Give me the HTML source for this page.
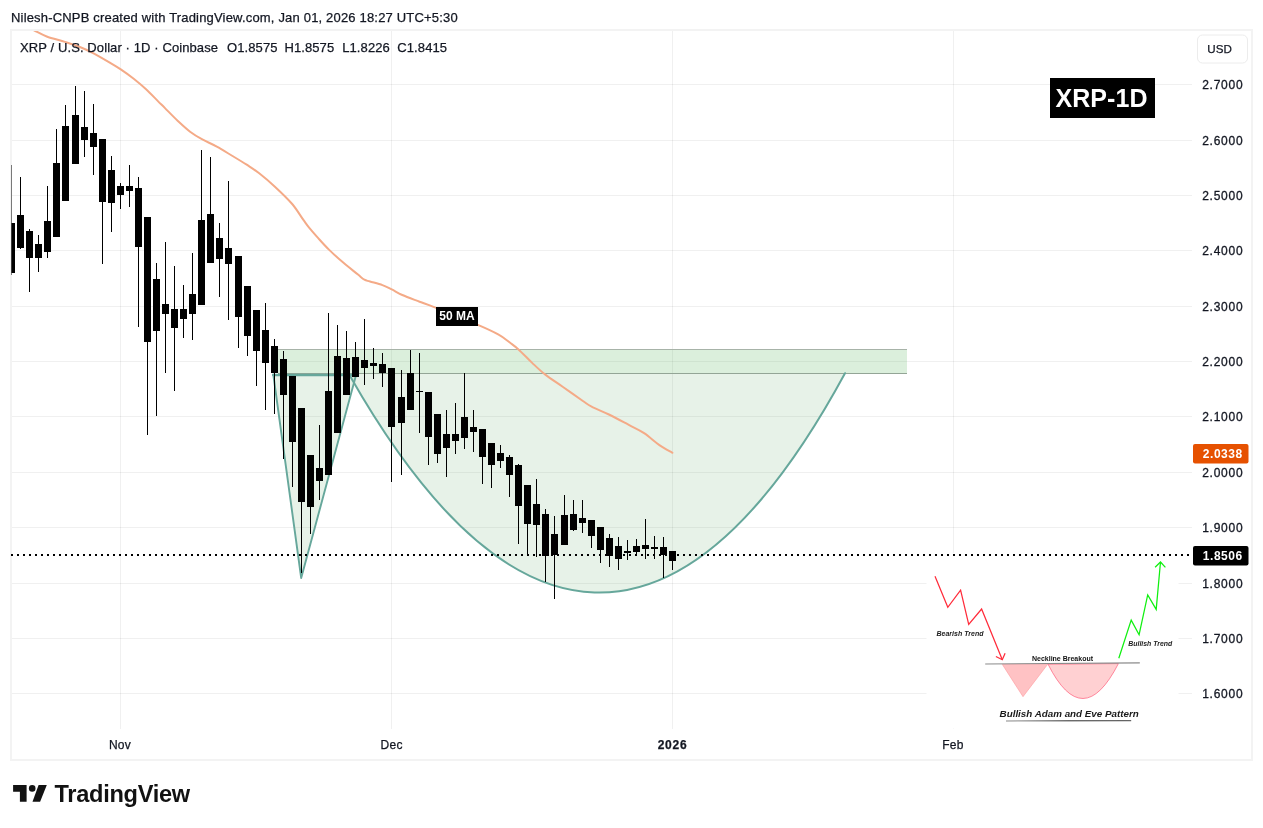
<!DOCTYPE html>
<html lang="en"><head><meta charset="utf-8"><title>XRP / U.S. Dollar - TradingView</title>
<style>
html,body{margin:0;padding:0;background:#fff;}
body{width:1263px;height:828px;overflow:hidden;position:relative;font-family:"Liberation Sans",sans-serif;}
svg{position:absolute;left:0;top:0;display:block;}
text{font-family:"Liberation Sans",sans-serif;}
.t{position:absolute;white-space:nowrap;color:#131722;line-height:1;-webkit-text-stroke:0.25px #131722;}
</style></head><body>
<svg width="1263" height="828" viewBox="0 0 1263 828">
<defs><clipPath id="pane"><rect x="11.5" y="31" width="1180.5" height="698"/></clipPath>
<linearGradient id="ug" x1="0" x2="1" y1="0" y2="0"><stop offset="0" stop-color="#b0b0b0"/><stop offset="0.5" stop-color="#555"/><stop offset="1" stop-color="#666"/></linearGradient></defs>
<rect x="11" y="30" width="1241" height="730" fill="#fff" stroke="#f3f3f3" stroke-width="2"/>
<g shape-rendering="crispEdges" stroke="#000" stroke-opacity="0.06" stroke-width="1">
<line x1="12" y1="84.5" x2="1192" y2="84.5"/>
<line x1="12" y1="140.5" x2="1192" y2="140.5"/>
<line x1="12" y1="195.5" x2="1192" y2="195.5"/>
<line x1="12" y1="250.5" x2="1192" y2="250.5"/>
<line x1="12" y1="306.5" x2="1192" y2="306.5"/>
<line x1="12" y1="361.5" x2="1192" y2="361.5"/>
<line x1="12" y1="416.5" x2="1192" y2="416.5"/>
<line x1="12" y1="472.5" x2="1192" y2="472.5"/>
<line x1="12" y1="527.5" x2="1192" y2="527.5"/>
<line x1="12" y1="583.5" x2="1192" y2="583.5"/>
<line x1="12" y1="638.5" x2="1192" y2="638.5"/>
<line x1="12" y1="693.5" x2="1192" y2="693.5"/>
<line x1="120.5" y1="31" x2="120.5" y2="729"/>
<line x1="391.5" y1="31" x2="391.5" y2="729"/>
<line x1="672.5" y1="31" x2="672.5" y2="729"/>
<line x1="953.5" y1="31" x2="953.5" y2="729"/>
</g>
<g clip-path="url(#pane)">
<rect x="278" y="349.5" width="629" height="24" fill="#4caf50" fill-opacity="0.2" stroke="none"/>
<path d="M273.3,374.5 L301.2,578 L355.8,376 Z" fill="#3d9a48" fill-opacity="0.125"/>
<path d="M350.3,376.6 C507.2,651.7 679.7,678.2 845,373.2 L845,374 L350.3,374 Z" fill="#3d9a48" fill-opacity="0.125"/>
<g shape-rendering="crispEdges"><rect x="278" y="349" width="629" height="1" fill="#a7b3a8"/><rect x="278" y="373" width="629" height="1" fill="#93a596"/></g>
<g fill="none" stroke="#66a79b" stroke-linejoin="round" stroke-linecap="round">
<path d="M273.3,375 L354,375" stroke-width="2.6"/>
<path d="M273.3,374.5 L301.2,578 L355.8,376" stroke-width="1.9"/>
<path d="M350.3,376.6 C507.2,651.7 679.7,678.2 845,373.2" stroke-width="2"/>
</g>
<path d="M22.0,24.0 C24.0,25.1 30.0,28.3 34.1,30.4 C38.2,32.5 41.6,34.6 46.7,36.5 C51.8,38.4 59.5,40.2 64.9,41.9 C70.3,43.6 74.7,44.9 79.3,46.7 C83.9,48.5 87.6,50.2 92.6,52.8 C97.6,55.4 104.9,59.7 109.5,62.4 C114.1,65.1 116.4,66.4 120.4,69.1 C124.4,71.8 129.5,75.4 133.7,78.7 C137.9,82.0 141.8,85.3 145.8,89.0 C149.8,92.7 154.7,97.9 157.9,101.1 C161.1,104.3 161.7,104.8 165.0,108.1 C168.3,111.4 173.4,116.8 177.6,120.7 C181.8,124.6 186.0,128.6 190.1,131.7 C194.2,134.8 197.4,136.7 201.9,139.2 C206.4,141.7 211.7,143.8 216.8,146.6 C221.9,149.4 227.5,153.0 232.5,156.0 C237.5,159.0 242.2,161.8 246.7,164.7 C251.1,167.6 254.5,169.6 259.2,173.3 C263.9,177.0 269.4,181.6 274.9,186.7 C280.4,191.8 287.5,198.5 292.2,204.0 C296.9,209.5 300.3,215.7 303.2,219.7 C306.1,223.7 306.7,224.8 309.3,227.9 C311.9,231.1 315.3,234.9 318.6,238.6 C321.9,242.3 325.0,245.8 329.2,249.9 C333.4,254.0 339.0,259.0 343.8,263.1 C348.6,267.2 354.6,271.8 358.0,274.6 C361.4,277.4 362.4,278.6 364.4,279.7 C366.4,280.8 367.0,280.6 370.0,281.5 C373.0,282.4 378.8,283.8 382.4,285.1 C386.0,286.4 388.4,287.8 391.7,289.4 C395.0,291.0 397.6,292.9 402.3,295.0 C407.0,297.1 414.1,299.6 419.6,301.7 C425.1,303.8 425.8,303.7 435.5,307.6 C445.2,311.5 467.4,320.4 477.9,324.9 C488.4,329.4 493.3,331.7 498.6,334.6 C503.9,337.5 506.5,340.0 509.8,342.5 C513.1,345.0 514.7,346.0 518.5,349.4 C522.3,352.8 528.0,358.9 532.4,363.1 C536.8,367.3 539.9,370.4 545.0,374.4 C550.1,378.4 556.7,382.6 563.0,387.0 C569.3,391.4 578.1,397.7 582.9,401.0 C587.7,404.3 587.3,404.4 591.6,406.6 C595.9,408.9 602.7,411.4 608.9,414.5 C615.1,417.6 622.9,421.8 628.8,424.9 C634.7,428.0 639.0,429.7 644.1,433.1 C649.2,436.5 654.7,441.8 659.4,445.1 C664.1,448.4 670.2,451.5 672.4,452.8" fill="none" stroke="#f4aa87" stroke-width="2" stroke-linejoin="round" stroke-linecap="round"/>
<g shape-rendering="crispEdges" fill="#000">
<rect x="11" y="165" width="1" height="110"/>
<rect x="8" y="223" width="7" height="50"/>
<rect x="20" y="177" width="1" height="72"/>
<rect x="17" y="215" width="7" height="33"/>
<rect x="29" y="229" width="1" height="63"/>
<rect x="26" y="231" width="7" height="27"/>
<rect x="38" y="235" width="1" height="37"/>
<rect x="35" y="244" width="7" height="14"/>
<rect x="47" y="186" width="1" height="72"/>
<rect x="44" y="221" width="7" height="31"/>
<rect x="56" y="129" width="1" height="108"/>
<rect x="53" y="163" width="7" height="74"/>
<rect x="65" y="105" width="1" height="96"/>
<rect x="62" y="126" width="7" height="75"/>
<rect x="75" y="86" width="1" height="78"/>
<rect x="72" y="115" width="7" height="49"/>
<rect x="84" y="91" width="1" height="66"/>
<rect x="81" y="127" width="7" height="13"/>
<rect x="93" y="104" width="1" height="71"/>
<rect x="90" y="133" width="7" height="14"/>
<rect x="102" y="139" width="1" height="125"/>
<rect x="99" y="139" width="7" height="63"/>
<rect x="111" y="156" width="1" height="76"/>
<rect x="108" y="170" width="7" height="33"/>
<rect x="120" y="183" width="1" height="26"/>
<rect x="117" y="186" width="7" height="9"/>
<rect x="129" y="165" width="1" height="42"/>
<rect x="126" y="186" width="7" height="5"/>
<rect x="138" y="177" width="1" height="150"/>
<rect x="135" y="188" width="7" height="59"/>
<rect x="147" y="217" width="1" height="218"/>
<rect x="144" y="217" width="7" height="125"/>
<rect x="156" y="263" width="1" height="153"/>
<rect x="153" y="279" width="7" height="52"/>
<rect x="165" y="242" width="1" height="131"/>
<rect x="162" y="304" width="7" height="10"/>
<rect x="174" y="266" width="1" height="125"/>
<rect x="171" y="309" width="7" height="19"/>
<rect x="183" y="285" width="1" height="53"/>
<rect x="180" y="309" width="7" height="10"/>
<rect x="192" y="253" width="1" height="87"/>
<rect x="189" y="294" width="7" height="20"/>
<rect x="201" y="150" width="1" height="155"/>
<rect x="198" y="220" width="7" height="85"/>
<rect x="210" y="157" width="1" height="106"/>
<rect x="207" y="214" width="7" height="49"/>
<rect x="219" y="223" width="1" height="74"/>
<rect x="216" y="238" width="7" height="21"/>
<rect x="228" y="181" width="1" height="139"/>
<rect x="225" y="248" width="7" height="16"/>
<rect x="238" y="256" width="1" height="92"/>
<rect x="235" y="256" width="7" height="61"/>
<rect x="247" y="286" width="1" height="70"/>
<rect x="244" y="286" width="7" height="50"/>
<rect x="256" y="310" width="1" height="76"/>
<rect x="253" y="310" width="7" height="41"/>
<rect x="265" y="303" width="1" height="107"/>
<rect x="262" y="330" width="7" height="33"/>
<rect x="274" y="339" width="1" height="75"/>
<rect x="271" y="346" width="7" height="27"/>
<rect x="283" y="351" width="1" height="108"/>
<rect x="280" y="359" width="7" height="36"/>
<rect x="292" y="376" width="1" height="111"/>
<rect x="289" y="376" width="7" height="66"/>
<rect x="301" y="408" width="1" height="165"/>
<rect x="298" y="408" width="7" height="94"/>
<rect x="310" y="455" width="1" height="79"/>
<rect x="307" y="455" width="7" height="52"/>
<rect x="319" y="425" width="1" height="75"/>
<rect x="316" y="468" width="7" height="13"/>
<rect x="328" y="313" width="1" height="162"/>
<rect x="325" y="391" width="7" height="84"/>
<rect x="337" y="325" width="1" height="108"/>
<rect x="334" y="356" width="7" height="77"/>
<rect x="346" y="331" width="1" height="64"/>
<rect x="343" y="358" width="7" height="37"/>
<rect x="355" y="342" width="1" height="35"/>
<rect x="352" y="357" width="7" height="20"/>
<rect x="364" y="319" width="1" height="66"/>
<rect x="361" y="360" width="7" height="8"/>
<rect x="373" y="348" width="1" height="31"/>
<rect x="370" y="363" width="7" height="3"/>
<rect x="382" y="353" width="1" height="34"/>
<rect x="379" y="364" width="7" height="9"/>
<rect x="391" y="368" width="1" height="114"/>
<rect x="388" y="368" width="7" height="59"/>
<rect x="401" y="370" width="1" height="105"/>
<rect x="398" y="397" width="7" height="26"/>
<rect x="410" y="350" width="1" height="60"/>
<rect x="407" y="373" width="7" height="37"/>
<rect x="419" y="353" width="1" height="80"/>
<rect x="416" y="391" width="7" height="1"/>
<rect x="428" y="392" width="1" height="73"/>
<rect x="425" y="392" width="7" height="45"/>
<rect x="437" y="414" width="1" height="49"/>
<rect x="434" y="414" width="7" height="40"/>
<rect x="446" y="410" width="1" height="67"/>
<rect x="443" y="434" width="7" height="14"/>
<rect x="455" y="403" width="1" height="51"/>
<rect x="452" y="434" width="7" height="7"/>
<rect x="464" y="373" width="1" height="76"/>
<rect x="461" y="417" width="7" height="21"/>
<rect x="473" y="410" width="1" height="42"/>
<rect x="470" y="427" width="7" height="5"/>
<rect x="482" y="429" width="1" height="55"/>
<rect x="479" y="429" width="7" height="28"/>
<rect x="491" y="443" width="1" height="45"/>
<rect x="488" y="443" width="7" height="22"/>
<rect x="500" y="445" width="1" height="23"/>
<rect x="497" y="453" width="7" height="8"/>
<rect x="509" y="455" width="1" height="42"/>
<rect x="506" y="457" width="7" height="18"/>
<rect x="518" y="464" width="1" height="80"/>
<rect x="515" y="465" width="7" height="41"/>
<rect x="527" y="485" width="1" height="70"/>
<rect x="524" y="485" width="7" height="39"/>
<rect x="536" y="479" width="1" height="78"/>
<rect x="533" y="504" width="7" height="21"/>
<rect x="545" y="509" width="1" height="73"/>
<rect x="542" y="514" width="7" height="42"/>
<rect x="554" y="516" width="1" height="83"/>
<rect x="551" y="534" width="7" height="21"/>
<rect x="564" y="495" width="1" height="50"/>
<rect x="561" y="515" width="7" height="30"/>
<rect x="573" y="500" width="1" height="31"/>
<rect x="570" y="514" width="7" height="16"/>
<rect x="582" y="500" width="1" height="33"/>
<rect x="579" y="518" width="7" height="5"/>
<rect x="591" y="520" width="1" height="28"/>
<rect x="588" y="520" width="7" height="16"/>
<rect x="600" y="527" width="1" height="36"/>
<rect x="597" y="527" width="7" height="23"/>
<rect x="609" y="534" width="1" height="33"/>
<rect x="606" y="538" width="7" height="18"/>
<rect x="618" y="537" width="1" height="33"/>
<rect x="615" y="546" width="7" height="13"/>
<rect x="627" y="540" width="1" height="20"/>
<rect x="624" y="551" width="7" height="2"/>
<rect x="636" y="539" width="1" height="16"/>
<rect x="633" y="546" width="7" height="6"/>
<rect x="645" y="519" width="1" height="40"/>
<rect x="642" y="545" width="7" height="4"/>
<rect x="654" y="536" width="1" height="23"/>
<rect x="651" y="547" width="7" height="2"/>
<rect x="663" y="537" width="1" height="41"/>
<rect x="660" y="547" width="7" height="8"/>
<rect x="672" y="551" width="1" height="19"/>
<rect x="669" y="551" width="7" height="10"/>
</g>
</g>
<rect x="436" y="307" width="42" height="19" fill="#000"/>
<text x="457" y="320.2" font-size="12" font-weight="bold" fill="#fff" text-anchor="middle">50 MA</text>
<rect x="1050" y="78" width="105" height="40" fill="#000"/>
<text x="1101.5" y="107" font-size="25" font-weight="bold" fill="#fff" text-anchor="middle" letter-spacing="0.05">XRP-1D</text>
<rect x="926.5" y="553" width="252" height="175.5" fill="#fff"/>
<g fill="none" stroke-linejoin="miter" stroke-linecap="butt">
<path d="M935,576.3 L947.8,607.3 L960.6,590.2 L968.7,624.4 L981.6,609 L1002.3,659.7" stroke="#ff2b3a" stroke-width="1.25"/>
<path d="M995.9,656.5 L1002.3,659.7 L1005.1,653.3" stroke="#ff2b3a" stroke-width="1.25"/>
<path d="M1118.8,658.2 L1131.2,620.1 L1139.1,634.7 L1147.7,594.9 L1156.2,609.4 L1160.5,562" stroke="#10f010" stroke-width="1.25"/>
<path d="M1155.1,567.3 L1160.5,562 L1165.4,567.3" stroke="#10f010" stroke-width="1.25"/>
</g>
<path d="M1002.3,664.4 L1047.6,664.4 L1023,696.7 Z" fill="#ffc2c4" stroke="#ff9aa0" stroke-width="0.6"/>
<path d="M1048,664.2 Q1082.8,733.1 1118.4,663.6 Z" fill="#ffd0d2" stroke="#ff5a78" stroke-width="0.7"/>
<line x1="985.2" y1="664" x2="1139.8" y2="662.9" stroke="#8a8a8a" stroke-width="1.1"/>
<text x="960" y="636" font-size="7" font-weight="bold" font-style="italic" fill="#222" text-anchor="middle">Bearish Trend</text>
<text x="1062.5" y="660.6" font-size="7" font-weight="bold" fill="#111" text-anchor="middle">Neckline Breakout</text>
<text x="1150.3" y="646.2" font-size="6.9" font-weight="bold" font-style="italic" fill="#222" text-anchor="middle">Bullish Trend</text>
<text x="999.6" y="716.8" font-size="9" font-weight="bold" font-style="italic" fill="#1a1a1a" textLength="139.2" lengthAdjust="spacingAndGlyphs">Bullish Adam and Eve Pattern</text>
<line x1="1006" y1="721" x2="1131.2" y2="720.6" stroke="url(#ug)" stroke-width="1.3"/>
<line x1="11" y1="555" x2="1192" y2="555" stroke="#000" stroke-width="2" stroke-dasharray="2 4" shape-rendering="crispEdges"/>
<text x="1222.8" y="88.9" font-size="12" fill="#131722" stroke="#131722" stroke-width="0.3" text-anchor="middle" letter-spacing="0.75">2.7000</text>
<text x="1222.8" y="144.9" font-size="12" fill="#131722" stroke="#131722" stroke-width="0.3" text-anchor="middle" letter-spacing="0.75">2.6000</text>
<text x="1222.8" y="199.9" font-size="12" fill="#131722" stroke="#131722" stroke-width="0.3" text-anchor="middle" letter-spacing="0.75">2.5000</text>
<text x="1222.8" y="254.9" font-size="12" fill="#131722" stroke="#131722" stroke-width="0.3" text-anchor="middle" letter-spacing="0.75">2.4000</text>
<text x="1222.8" y="310.9" font-size="12" fill="#131722" stroke="#131722" stroke-width="0.3" text-anchor="middle" letter-spacing="0.75">2.3000</text>
<text x="1222.8" y="365.9" font-size="12" fill="#131722" stroke="#131722" stroke-width="0.3" text-anchor="middle" letter-spacing="0.75">2.2000</text>
<text x="1222.8" y="420.9" font-size="12" fill="#131722" stroke="#131722" stroke-width="0.3" text-anchor="middle" letter-spacing="0.75">2.1000</text>
<text x="1222.8" y="476.9" font-size="12" fill="#131722" stroke="#131722" stroke-width="0.3" text-anchor="middle" letter-spacing="0.75">2.0000</text>
<text x="1222.8" y="531.9" font-size="12" fill="#131722" stroke="#131722" stroke-width="0.3" text-anchor="middle" letter-spacing="0.75">1.9000</text>
<text x="1222.8" y="587.9" font-size="12" fill="#131722" stroke="#131722" stroke-width="0.3" text-anchor="middle" letter-spacing="0.75">1.8000</text>
<text x="1222.8" y="642.9" font-size="12" fill="#131722" stroke="#131722" stroke-width="0.3" text-anchor="middle" letter-spacing="0.75">1.7000</text>
<text x="1222.8" y="697.9" font-size="12" fill="#131722" stroke="#131722" stroke-width="0.3" text-anchor="middle" letter-spacing="0.75">1.6000</text>
<rect x="1193" y="444" width="55.5" height="19.5" rx="2" fill="#e65100"/>
<text x="1222.8" y="458.3" font-size="12" font-weight="bold" fill="#fff" text-anchor="middle" letter-spacing="0.55">2.0338</text>
<rect x="1193" y="546" width="55.5" height="19.5" rx="2" fill="#000"/>
<text x="1222.8" y="560.2" font-size="12" font-weight="bold" fill="#fff" text-anchor="middle" letter-spacing="0.55">1.8506</text>
<rect x="1197.5" y="35" width="50" height="28" rx="5" fill="#fff" stroke="#ececec" stroke-width="1"/>
<text x="1219.6" y="53.2" font-size="11.6" fill="#131722" stroke="#131722" stroke-width="0.25" text-anchor="middle">USD</text>
<text x="120.0" y="749" font-size="12" fill="#131722" stroke="#131722" stroke-width="0.25" text-anchor="middle" letter-spacing="0.3">Nov</text>
<text x="391.7" y="749" font-size="12" fill="#131722" stroke="#131722" stroke-width="0.25" text-anchor="middle" letter-spacing="0.3">Dec</text>
<text x="672.6" y="749" font-size="12" fill="#131722" stroke="#131722" stroke-width="0.25" text-anchor="middle" font-weight="bold" letter-spacing="0.8">2026</text>
<text x="953.0" y="749" font-size="12" fill="#131722" stroke="#131722" stroke-width="0.25" text-anchor="middle" letter-spacing="0.3">Feb</text>
<g fill="#121212">
<path d="M13.1,785 H26.6 V801.8 H19.9 V791.8 H13.1 Z"/>
<circle cx="32.2" cy="788.4" r="3.3"/>
<path d="M38.6,785 H46.8 L40.1,801.8 H32.5 Z"/>
<text x="54.5" y="801.8" font-size="23.6" font-weight="bold" letter-spacing="-0.29">TradingView</text>
</g>
</svg>
<div class="t" style="left:11px;top:10.6px;font-size:13px;letter-spacing:0.18px;">Nilesh-CNPB created with TradingView.com, Jan 01, 2026 18:27 UTC+5:30</div>
<div class="t" style="left:20px;top:41px;font-size:13px;letter-spacing:0.1px;">XRP / U.S. Dollar · 1D · Coinbase</div>
<div class="t" style="left:227.0px;top:41px;font-size:13px;letter-spacing:0.1px;">O1.8575</div>
<div class="t" style="left:284.4px;top:41px;font-size:13px;letter-spacing:0.1px;">H1.8575</div>
<div class="t" style="left:342.2px;top:41px;font-size:13px;letter-spacing:0.1px;">L1.8226</div>
<div class="t" style="left:397.3px;top:41px;font-size:13px;letter-spacing:0.1px;">C1.8415</div>
</body></html>
